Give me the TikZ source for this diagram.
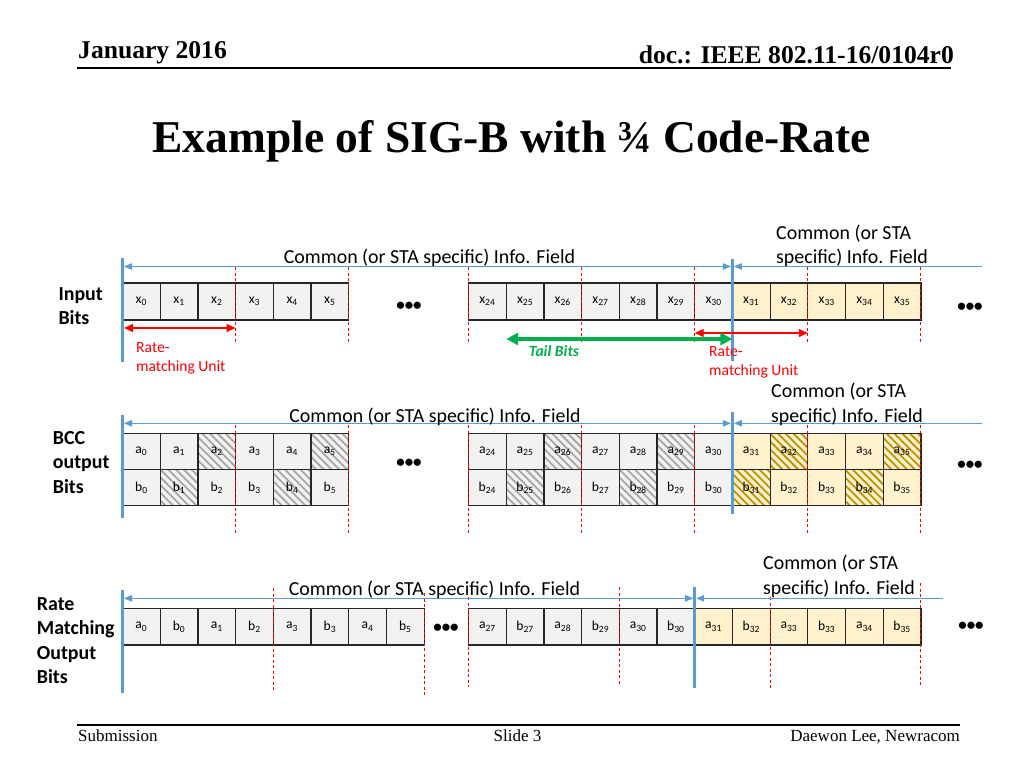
\documentclass[tikz,border=0pt]{standalone}
\usepackage{fontspec}
\setmainfont{Carlito}
\newfontfamily\timesfont{Liberation Serif}
\usetikzlibrary{arrows.meta,calc,patterns.meta}
\definecolor{lblue}{RGB}{91,155,213}
\definecolor{cellgray}{RGB}{242,242,242}
\definecolor{cellyel}{RGB}{255,242,204}
\definecolor{hgray}{RGB}{166,166,166}
\definecolor{hgold}{RGB}{191,144,0}
\definecolor{tgreen}{RGB}{0,176,80}
\newcommand\fieldfont{\fontsize{19.9}{24.4}\selectfont}
\newcommand\cellfont{\fontsize{13.6}{15}\selectfont}

\tikzset{
  cell/.style={draw=black!85, line width=1.2pt, minimum width=37.7pt, minimum height=37pt,
    inner sep=0pt, outer sep=0pt, font=\cellfont},
  gcell/.style={cell, fill=cellgray},
  ycell/.style={cell, fill=cellyel},
  ghatch/.style={cell, preaction={fill=cellgray},
    preaction={pattern={Lines[angle=-45,distance=5.5pt,line width=1.8pt]}, pattern color=hgray}},
  yhatch/.style={cell, preaction={fill=cellyel},
    preaction={pattern={Lines[angle=-45,distance=5.5pt,line width=1.8pt]}, pattern color=hgold}},
  divider/.style={lblue, line width=3pt},
  infoline/.style={lblue, line width=0.9pt, shorten <=1.5pt, shorten >=1.5pt},
  infotip/.tip={Triangle[length=8pt,width=6.5pt]},
  unitdash/.style={red, line width=1pt, dash pattern=on 3pt off 2.5pt},
  rmarrow/.style={red, line width=1.2pt, {Triangle[length=9pt,width=8pt]}-{Triangle[length=9pt,width=8pt]}},
  tailarrow/.style={tgreen, line width=3.6pt, {Triangle[length=12pt,width=12pt]}-{Triangle[length=12pt,width=12pt]}},
  rowlbl/.style={anchor=north west, align=left, inner sep=0pt, font=\fieldfont\bfseries},
  fieldlbl/.style={anchor=base, inner sep=0pt, font=\fieldfont},
  fieldlbl2/.style={anchor=south west, align=left, inner sep=0pt, font=\fieldfont},
  rmlbl/.style={anchor=north west, align=left, inner sep=0pt, text=red, font=\fontsize{15.6}{18.5}\selectfont},
  dots/.style={inner sep=0pt, font=\fontsize{17}{20}\selectfont\bfseries}
}

\begin{document}
\begin{tikzpicture}[x=1pt, y=-1pt]
  \useasboundingbox[fill=white] (0,0) rectangle (1024,768);

  % header and footer of the slide
  \node[anchor=base west, inner sep=0pt, font=\timesfont\bfseries\fontsize{25.6}{30}\selectfont] (date) at (78,58.3) {January 2016};
  \node[anchor=base east, inner sep=0pt, font=\timesfont\bfseries\fontsize{25.6}{30}\selectfont] (docnum) at (954,63.3) {doc.: IEEE 802.11-16/0104r0};
  \draw[line width=1.8pt] (77,67.7) -- (951,67.7);
  \node[anchor=base, inner sep=0pt, font=\timesfont\bfseries\fontsize{45.5}{54}\selectfont] (title) at (511.5,152) {Example of SIG-B with ¾ Code-Rate};
  \draw[line width=1.8pt] (77,725) -- (960,725);
  \node[anchor=base west, inner sep=0pt, font=\timesfont\fontsize{17}{20}\selectfont] (sub) at (78,741.7) {Submission};
  \node[anchor=base, inner sep=0pt, font=\timesfont\fontsize{17}{20}\selectfont] (slide) at (517.5,741.7) {Slide 3};
  \node[anchor=base east, inner sep=0pt, font=\timesfont\fontsize{17}{20}\selectfont] (author) at (960,741.7) {Daewon Lee, Newracom};

  % Input bits
  \node[rowlbl] (inlbl) at (58.3,287.2) {Input\\Bits};
  \foreach \i in {0,...,5}
    \node[gcell] (x\i) at ({122.5+37.7*(\i+0.5)},301.5) {x\textsubscript{\i}};
  \foreach \i in {24,...,30}
    \node[gcell] (x\i) at ({468.5+37.7*(\i-24+0.5)},301.5) {x\textsubscript{\i}};
  \foreach \i in {31,...,35}
    \node[ycell] (x\i) at ({468.5+37.7*(\i-24+0.5)},301.5) {x\textsubscript{\i}};
  \node[dots] (dots1a) at (409,306) {\textbullet\textbullet\textbullet};
  \node[dots] (dots1b) at (970,307) {\textbullet\textbullet\textbullet};
  \foreach \c in {x2,x5,x26,x29,x32,x35}
    \draw[unitdash] ($(\c.north east)+(0,-16)$) -- ($(\c.south east)+(0,23)$);
  \draw[unitdash] ($(x24.north west)+(0,-16)$) -- ($(x24.south west)+(0,23)$);
  \draw[divider] ($(x0.north west)+(0,-25)$) -- ($(x0.south west)+(0,42)$);
  \draw[divider] ($(x30.north east)+(0,-24)$) -- ($(x30.south east)+(0,41)$);
  \coordinate (info1L) at ($(x0.north west)+(0,-16.5)$);
  \coordinate (info1M) at ($(x30.north east)+(0,-16.5)$);
  \coordinate (info1R) at ($(info1M)+(250,0)$);
  \draw[infoline, infotip-infotip] (info1L) -- (info1M);
  \draw[infoline, infotip-, shorten >=0pt] (info1M) -- (info1R);
  \node[fieldlbl] (field1a) at (429.5,263) {Common (or STA specific) Info. Field};
  \node[fieldlbl2] (field1b) at (776,267) {Common (or STA\\specific) Info. Field};
  \draw[rmarrow] ($(x0.south west)+(1.5,8)$) -- ($(x2.south east)+(0,8)$);
  \draw[rmarrow] ($(x30.south west)+(0,13)$) -- ($(x32.south east)+(0,13)$);
  \draw[tailarrow] ($(x25.south west)+(0,19)$) -- ($(x30.south east)+(0,19)$);
  \node[rmlbl] (rm1) at (136,342.3) {Rate-\\matching Unit};
  \node[rmlbl] (rm2) at (709,346.7) {Rate-\\matching Unit};
  \node[anchor=base, inner sep=0pt, text=tgreen, font=\fontsize{15.6}{18.5}\selectfont\bfseries\itshape] (tail) at (554,356.7) {Tail Bits};

  % BCC output bits
  \node[rowlbl] (bcclbl) at (52.7,431.2) {BCC\\output\\Bits};
  \foreach \i/\sa/\sb in {0/gcell/gcell, 1/gcell/ghatch, 2/ghatch/gcell, 3/gcell/gcell, 4/gcell/ghatch, 5/ghatch/gcell} {
    \node[\sa, minimum height=36.2pt] (a\i) at ({122.5+37.7*(\i+0.5)},451.4) {a\textsubscript{\i}};
    \node[\sb, minimum height=36.2pt] (b\i) at ({122.5+37.7*(\i+0.5)},487.6) {b\textsubscript{\i}};
  }
  \foreach \i/\sa/\sb in {24/gcell/gcell, 25/gcell/ghatch, 26/ghatch/gcell, 27/gcell/gcell, 28/gcell/ghatch,
      29/ghatch/gcell, 30/gcell/gcell, 31/ycell/yhatch, 32/yhatch/ycell, 33/ycell/ycell, 34/ycell/yhatch, 35/yhatch/ycell} {
    \node[\sa, minimum height=36.2pt] (a\i) at ({468.5+37.7*(\i-24+0.5)},451.4) {a\textsubscript{\i}};
    \node[\sb, minimum height=36.2pt] (b\i) at ({468.5+37.7*(\i-24+0.5)},487.6) {b\textsubscript{\i}};
  }
  \node[dots] (dots2a) at (409,463) {\textbullet\textbullet\textbullet};
  \node[dots] (dots2b) at (970,465) {\textbullet\textbullet\textbullet};
  \foreach \c in {2,5,26,29,32,35}
    \draw[unitdash] ($(a\c.north east)+(0,-8)$) -- ($(b\c.south east)+(0,29)$);
  \draw[unitdash] ($(a24.north west)+(0,-8)$) -- ($(b24.south west)+(0,29)$);
  \draw[divider] ($(a0.north west)+(0,-18.3)$) -- ($(b0.south west)+(0,12)$);
  \draw[divider] ($(a30.north east)+(0,-21.6)$) -- ($(b30.south east)+(0,8.3)$);
  \coordinate (info2L) at ($(a0.north west)+(0,-10)$);
  \coordinate (info2M) at ($(a30.north east)+(0,-10)$);
  \coordinate (info2R) at ($(info2M)+(250,0)$);
  \draw[infoline, infotip-infotip] (info2L) -- (info2M);
  \draw[infoline, infotip-, shorten >=0pt] (info2M) -- (info2R);
  \node[fieldlbl] (field2a) at (435,422.3) {Common (or STA specific) Info. Field};
  \node[fieldlbl2] (field2b) at (771,425.5) {Common (or STA\\specific) Info. Field};

  % Rate matching output bits
  \node[rowlbl] (rmolbl) at (36.7,597.2) {Rate\\Matching\\Output\\Bits};
  \foreach \n/\t [count=\k from 0] in {a/0, b/0, a/1, b/2, a/3, b/3, a/4, b/5}
    \node[gcell, minimum height=36.7pt] (r\n\t) at ({122.5+37.7*(\k+0.5)},626.7) {\n\textsubscript{\t}};
  \foreach \n/\t/\s [count=\k from 0] in {a/27/gcell, b/27/gcell, a/28/gcell, b/29/gcell, a/30/gcell, b/30/gcell,
      a/31/ycell, b/32/ycell, a/33/ycell, b/33/ycell, a/34/ycell, b/35/ycell}
    \node[\s, minimum height=36.7pt] (r\n\t) at ({468.5+37.7*(\k+0.5)},626.7) {\n\textsubscript{\t}};
  \node[dots] (dots3a) at (446,628) {\textbullet\textbullet\textbullet};
  \node[dots] (dots3b) at (971,626) {\textbullet\textbullet\textbullet};
  \foreach \c/\s/\t/\b in {rb2/east/-20/47, rb5/east/-15/50, ra27/west/-11/42, rb29/east/-21/40, rb32/east/-11/45, rb35/east/-25/40}
    \draw[unitdash] ($(\c.north \s)+(0,\t)$) -- ($(\c.south \s)+(0,\b)$);
  \draw[divider] ($(ra0.north west)+(0,-18.3)$) -- ($(ra0.south west)+(0,48)$);
  \draw[divider] ($(rb30.north east)+(0,-21.3)$) -- ($(rb30.south east)+(0,43)$);
  \coordinate (info3L) at ($(ra0.north west)+(0,-10)$);
  \coordinate (info3M) at ($(rb30.north east)+(0,-10)$);
  \coordinate (info3R) at ($(info3M)+(248,0)$);
  \draw[infoline, infotip-infotip] (info3L) -- (info3M);
  \draw[infoline, infotip-, shorten >=0pt] (info3M) -- (info3R);
  \node[fieldlbl] (field3a) at (434.5,595) {Common (or STA specific) Info. Field};
  \node[fieldlbl2] (field3b) at (763,597.5) {Common (or STA\\specific) Info. Field};
\end{tikzpicture}
\end{document}
